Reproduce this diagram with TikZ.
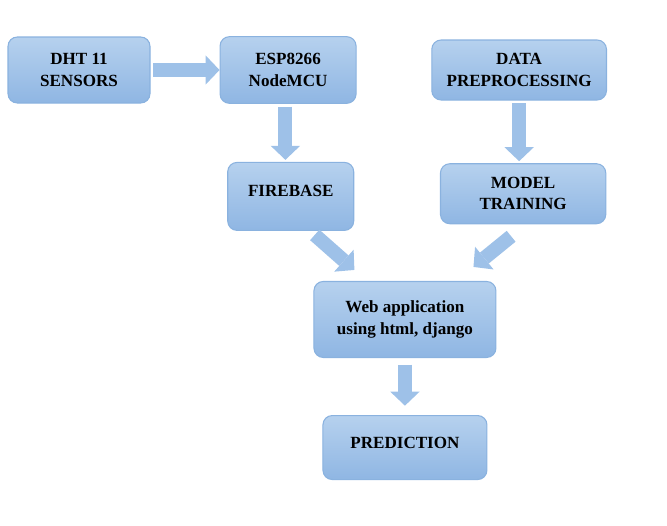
\documentclass[tikz,border=0pt]{standalone}
\usepackage{fontspec}
\setmainfont{Liberation Serif}
\usetikzlibrary{positioning,calc,arrows.meta}
\definecolor{boxtop}{HTML}{B6D1EE}
\definecolor{boxbot}{HTML}{8FB6E3}
\definecolor{boxline}{HTML}{8AB2DF}
\definecolor{arrowfill}{HTML}{9EC1E8}
\tikzstyle{block}=[draw=boxline, line width=0.8pt, rounded corners=7pt,
top color=boxtop, bottom color=boxbot, align=center,
font=\fontsize{12.8}{16}\selectfont\bfseries]
\tikzstyle{flow}=[draw=arrowfill, line width=10.5pt,
-{Triangle[width=22pt,length=10.5pt,line width=0pt]}]

\begin{document}
\begin{tikzpicture}
	[node distance={40pt}]
	\useasboundingbox (0,0) rectangle (500.25pt,-393.75pt);
	\node[block, minimum width=106.5pt, minimum height=49.5pt] (dht) at (59.25pt,-52.5pt) {DHT 11\\SENSORS};
	\node[block, minimum width=102pt, minimum height=50pt] (esp) [right=51.75pt of dht] {ESP8266\\NodeMCU};
	\node[block, minimum width=131pt, minimum height=45pt] (data) [right=56pt of esp] {DATA\\PREPROCESSING};
	\node[block, minimum width=94.5pt, minimum height=51pt] (fire) [below=43.5pt of esp, xshift=2pt] {FIREBASE\\[-8pt]};
	\node[block, minimum width=124pt, minimum height=45pt] (model) [below=47pt of data, xshift=3pt] {MODEL\\TRAINING};
	\coordinate (mid) at ($(fire.south)!0.5!(model.south)$);
	\node[block, minimum width=136.5pt, minimum height=57pt] (web) [below=40pt of mid, xshift=-1.5pt] {Web application\\using html, django};
	\node[block, minimum width=123pt, minimum height=48pt] (pred) [below=42.75pt of web] {PREDICTION\\[-8.5pt]};

	\draw[flow, shorten <=2pt] (dht) -- (esp);
	\draw[flow, shorten <=2pt, shorten >=1.5pt] ([xshift=-2pt]esp.south) -- ([xshift=-2pt]esp.south |- fire.north);
	\draw[flow, shorten <=2pt, shorten >=1.5pt] (data.south) -- (data.south |- model.north);
	\draw[flow] ([shift={(18pt,-3pt)}]fire.south) -- ([shift={(30.75pt,8.25pt)}]web.north west);
	\draw[flow] ([shift={(-9pt,-9pt)}]model.south) -- ([shift={(-17.25pt,10.5pt)}]web.north east);
	\draw[flow, shorten <=5pt, shorten >=7pt] (web) -- (pred);
\end{tikzpicture}
\end{document}
